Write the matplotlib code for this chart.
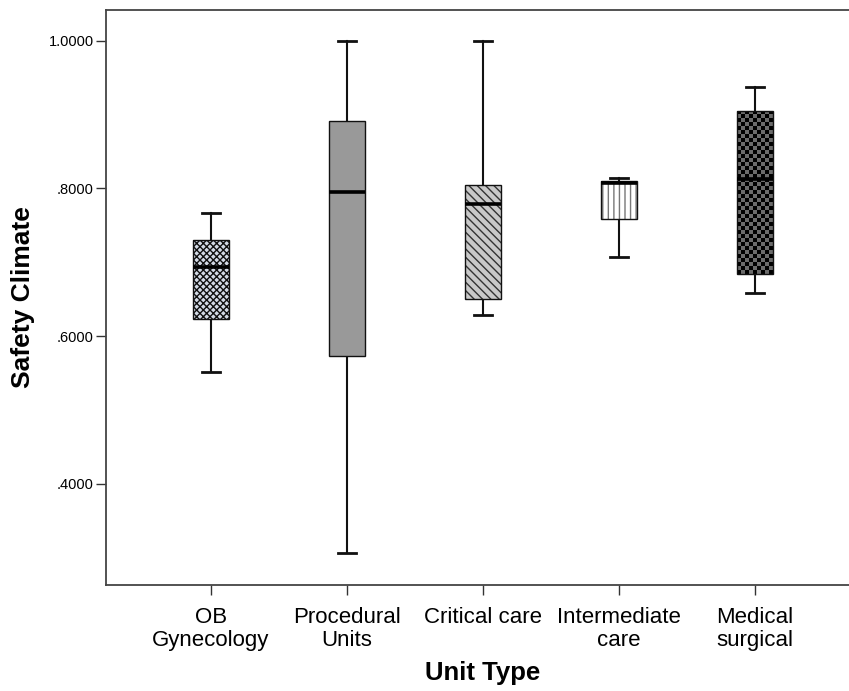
import numpy as np
import matplotlib
matplotlib.use("Agg")
import matplotlib.pyplot as plt
from matplotlib.patches import PathPatch
from matplotlib.ticker import FuncFormatter

plt.rcParams['font.family'] = ['Liberation Sans', 'DejaVu Sans']

# Unit types and their five-number summaries of the safety climate score
units = ["OB\nGynecology", "Procedural\nUnits", "Critical care",
         "Intermediate\ncare", "Medical\nsurgical"]
whisker_low = [0.5516, 0.3058, 0.6285, 0.7075, 0.6579]
q1 = [0.6226, 0.5733, 0.6502, 0.7590, 0.6837]
median = [0.6940, 0.7948, 0.7794, 0.8078, 0.8129]
q3 = [0.7302, 0.8915, 0.8047, 0.8105, 0.9050]
whisker_high = [0.7664, 1.0000, 1.0000, 0.8136, 0.9380]
y_ticks = [0.4, 0.6, 0.8, 1.0]

fills = ["#d3dae6", "#999999", "#c9c9c9", "#ffffff", None]
hatches = ["xxxxx", None, "\\\\\\\\", "|||", None]
hatch_colors = ["#111111", None, "#333333", "#777777", None]

fig = plt.figure(figsize=(8.49, 6.91), dpi=100)
ax = fig.add_axes([106 / 849, 1 - 585 / 691, 754 / 849, 575 / 691])

stats = []
for i in range(len(units)):
    stats.append(dict(med=median[i], q1=q1[i], q3=q3[i],
                      whislo=whisker_low[i], whishi=whisker_high[i],
                      fliers=[], label=units[i]))

pos = np.arange(len(units))
bw = 0.26
art = ax.bxp(stats, positions=pos, widths=bw, capwidths=bw / 2,
             patch_artist=True, showfliers=False,
             boxprops=dict(edgecolor="#111111", linewidth=1.0, facecolor="none"),
             medianprops=dict(color="black", linewidth=2.6),
             whiskerprops=dict(color="#111111", linewidth=1.5),
             capprops=dict(color="#111111", linewidth=2.0))

ax.set_xlim(-0.772, 4.772)
ax.set_ylim(0.2624, 1.042)

for i, box in enumerate(art["boxes"]):
    box.set_zorder(3)
    path = box.get_path()
    if fills[i] is not None:
        bg = PathPatch(path, facecolor=fills[i], edgecolor=hatch_colors[i] or fills[i],
                       linewidth=0, hatch=hatches[i], zorder=2)
        ax.add_patch(bg)
    else:
        # checkerboard fill clipped to the box
        x0, x1 = pos[i] - bw / 2, pos[i] + bw / 2
        y0, y1 = q1[i], q3[i]
        px = ax.transData.transform([[x0, y0], [x1, y1]])
        wpx, hpx = abs(px[1, 0] - px[0, 0]), abs(px[1, 1] - px[0, 1])
        nc, nr = max(1, int(round(wpx / 4))), max(1, int(round(hpx / 4)))
        grid = (np.add.outer(np.arange(nr), np.arange(nc)) % 2).astype(float)
        im = ax.imshow(grid, cmap=matplotlib.colors.ListedColormap(["#000000", "#6b6b6b"]),
                       extent=[x0, x1, y0, y1], aspect="auto",
                       interpolation="nearest", zorder=2)
        clip = PathPatch(path, transform=ax.transData, facecolor="none", edgecolor="none")
        ax.add_patch(clip)
        im.set_clip_path(clip)
for m in art["medians"]:
    m.set_zorder(4)

ax.set_xlim(-0.772, 4.772)
ax.set_ylim(0.2624, 1.042)

ax.set_xticks(pos)
ax.set_xticklabels(units, fontsize=16, linespacing=1.1)
ax.set_yticks(y_ticks)
ax.yaxis.set_major_formatter(FuncFormatter(
    lambda v, p: ("%.4f" % v).lstrip("0") if v < 1 else "%.4f" % v))
ax.tick_params(axis="y", labelsize=10.5, length=7, width=1.0, color="#333333", pad=2)
ax.tick_params(axis="x", length=7, width=1.0, color="#333333", pad=9)

for s in ax.spines.values():
    s.set_color("#444444")
    s.set_linewidth(1.3)

ax.set_xlabel("Unit Type", fontsize=18.5, fontweight="bold", labelpad=7)
ax.set_ylabel("Safety Climate", fontsize=19, fontweight="bold")
ax.yaxis.set_label_coords(-0.094, 0.5)

fig.savefig("out.png", dpi=100)
